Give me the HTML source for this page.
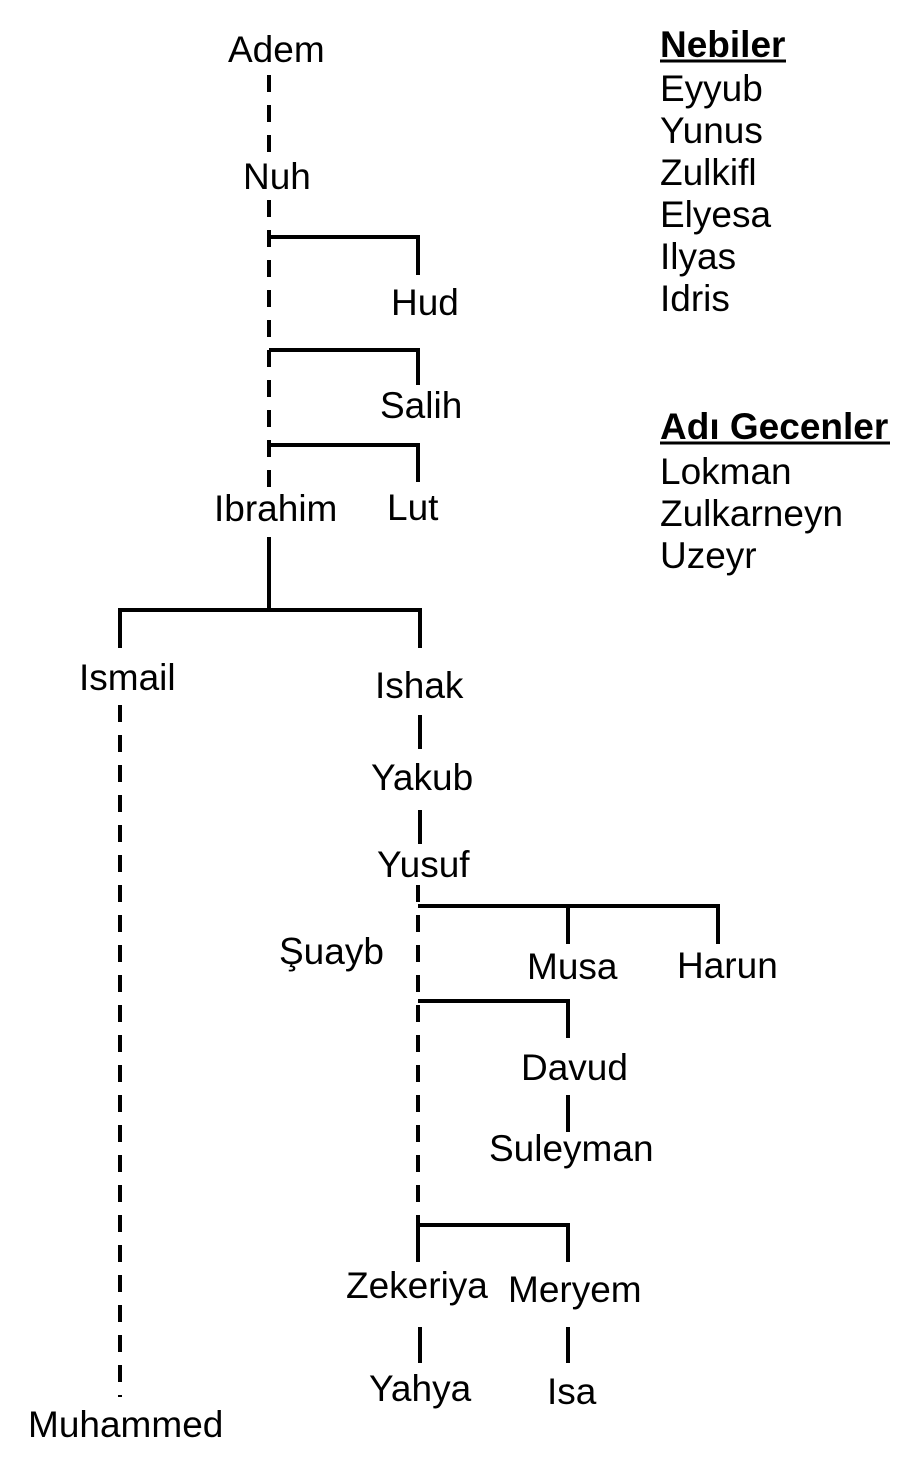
<!DOCTYPE html>
<html><head><meta charset="utf-8"><style>
html,body{margin:0;padding:0;background:#fff;}
svg{display:block;}
text{font-family:"Liberation Sans",sans-serif;font-size:37px;fill:#000;}
</style></head><body>
<svg width="923" height="1470" viewBox="0 0 923 1470" xmlns="http://www.w3.org/2000/svg">
<g stroke="#000" stroke-width="4" fill="none">
<g stroke-dasharray="17,13">
<line x1="269" y1="75" x2="269" y2="158"/>
<line x1="269" y1="200" x2="269" y2="487"/>
<line x1="120" y1="705" x2="120" y2="1397"/>
<line x1="418" y1="885" x2="418" y2="1228"/>
</g>
<polyline points="269,237 418,237 418,275"/>
<polyline points="269,350 418,350 418,385"/>
<polyline points="269,445 418,445 418,482"/>
<line x1="269" y1="537" x2="269" y2="610"/>
<polyline points="120,648 120,610 420,610 420,648"/>
<line x1="420" y1="715" x2="420" y2="749"/>
<line x1="420" y1="810" x2="420" y2="844"/>
<polyline points="418,906 718,906 718,944"/>
<line x1="568" y1="906" x2="568" y2="944"/>
<polyline points="418,1001 568,1001 568,1038"/>
<line x1="568" y1="1095" x2="568" y2="1132"/>
<polyline points="418,1262 418,1225 568,1225 568,1262"/>
<line x1="420" y1="1327" x2="420" y2="1363"/>
<line x1="568" y1="1327" x2="568" y2="1363"/>
</g>
<text x="228" y="62">Adem</text>
<text x="243" y="189">Nuh</text>
<text x="391" y="315">Hud</text>
<text x="380" y="418">Salih</text>
<text x="214" y="521">Ibrahim</text>
<text x="387" y="520">Lut</text>
<text x="79" y="690">Ismail</text>
<text x="375" y="698">Ishak</text>
<text x="371" y="790">Yakub</text>
<text x="377" y="877">Yusuf</text>
<text x="279" y="964">Şuayb</text>
<text x="527" y="979">Musa</text>
<text x="677" y="978">Harun</text>
<text x="521" y="1080">Davud</text>
<text x="489" y="1161">Suleyman</text>
<text x="346" y="1298">Zekeriya</text>
<text x="508" y="1302">Meryem</text>
<text x="369" y="1401">Yahya</text>
<text x="547" y="1404">Isa</text>
<text x="28" y="1437">Muhammed</text>
<text x="660" y="57" font-weight="bold">Nebiler</text>
<text x="660" y="101">Eyyub</text>
<text x="660" y="143">Yunus</text>
<text x="660" y="185">Zulkifl</text>
<text x="660" y="227">Elyesa</text>
<text x="660" y="269">Ilyas</text>
<text x="660" y="311">Idris</text>
<text x="660" y="439" font-weight="bold">Adı Gecenler</text>
<text x="660" y="484">Lokman</text>
<text x="660" y="526">Zulkarneyn</text>
<text x="660" y="568">Uzeyr</text>
<line x1="660" y1="61" x2="786" y2="61" stroke="#000" stroke-width="3"/>
<line x1="660" y1="443" x2="890" y2="443" stroke="#000" stroke-width="3"/>
</svg>
</body></html>
